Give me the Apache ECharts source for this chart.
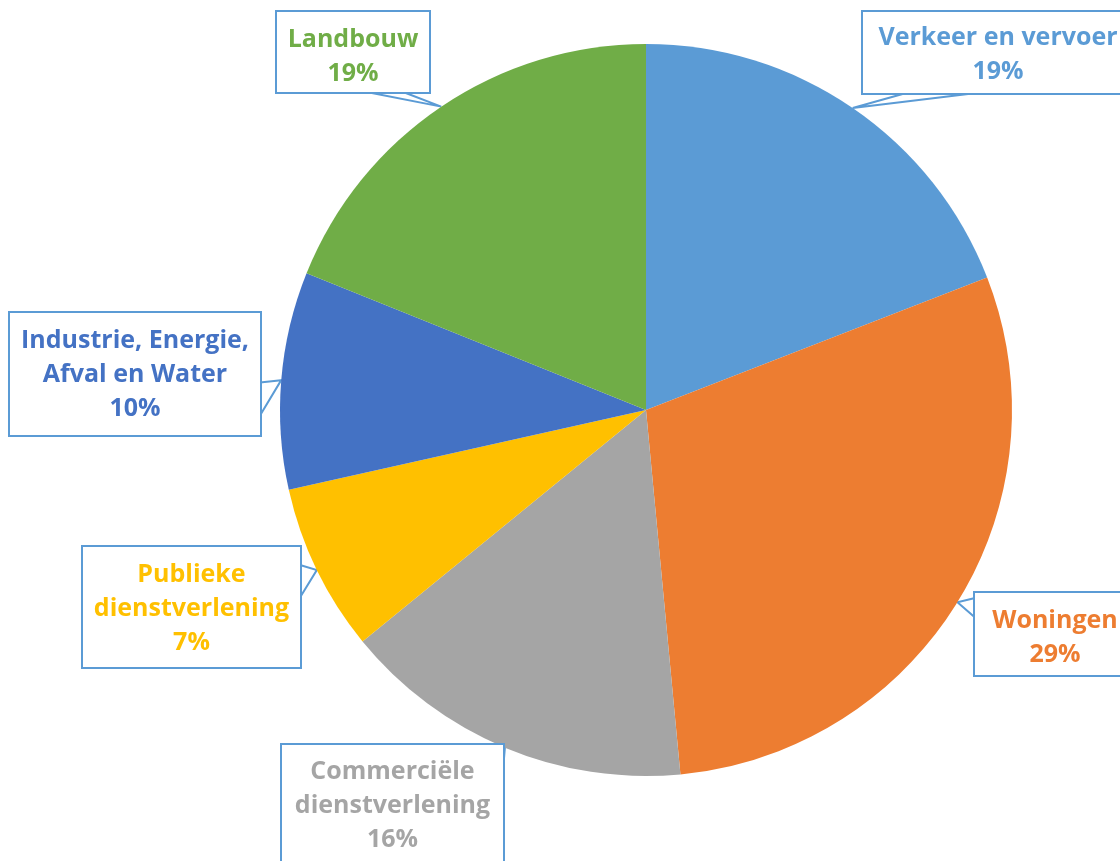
<!DOCTYPE html>
<html><head><meta charset="utf-8">
<script src="https://cdn.jsdelivr.net/npm/echarts@6/dist/echarts.min.js"></script>
<style>html,body{margin:0;padding:0;background:#fff}#c{width:1120px;height:861px}</style>
</head><body><div id="c"></div>
<script>
const categories = ['Verkeer en vervoer', 'Woningen', 'Commerciële dienstverlening', 'Publieke dienstverlening', 'Industrie, Energie, Afval en Water', 'Landbouw'];
const labelTexts = ['Verkeer en vervoer', 'Woningen', 'Commerciële\ndienstverlening', 'Publieke\ndienstverlening', 'Industrie, Energie,\nAfval en Water', 'Landbouw'];
const values = [19.1, 29.4, 15.6, 7.4, 9.6, 18.9];
const colors = ['#5B9BD5', '#ED7D31', '#A5A5A5', '#FFC000', '#4472C4', '#70AD47'];

const LH = 34, PADH = 4;
const boxes = [
  {left: 863, top: 12, w: 270, pt: 9, pb: 4, edge: 'bottom', a: 0.16, b: 0.42},
  {left: 975, top: 593, w: 160, pt: 11, pb: 3, edge: 'left', a: 0.06, b: 0.30},
  {left: 282, top: 745, w: 221, pt: 10, pb: 20, edge: 'right', a: 0.05, b: 0.19},
  {left: 83, top: 547, w: 217, pt: 11, pb: 7, edge: 'right', a: 0.15, b: 0.42},
  {left: 10, top: 313, w: 250, pt: 11, pb: 9, edge: 'right', a: 0.57, b: 0.84},
  {left: 277, top: 12, w: 152, pt: 11, pb: 1, edge: 'bottom', a: 0.59, b: 0.83}
];
function boxHeight(i) {
  return boxes[i].pt + boxes[i].pb + LH * (labelTexts[i].split('\n').length + 1);
}
function edgePoint(i, f) {
  const b = boxes[i], h = boxHeight(i);
  if (b.edge === 'bottom') return [b.left + f * b.w, b.top + h];
  if (b.edge === 'top') return [b.left + f * b.w, b.top];
  if (b.edge === 'left') return [b.left, b.top + f * h];
  return [b.left + b.w, b.top + f * h];
}

const data = categories.map((name, i) => ({
  name: name,
  value: values[i],
  itemStyle: {color: colors[i]},
  label: {
    color: colors[i],
    width: boxes[i].w - 2 * PADH,
    padding: [boxes[i].pt, PADH, boxes[i].pb, PADH]
  }
}));

const chart = echarts.init(document.getElementById('c'), null, {renderer: 'canvas'});
chart.setOption({
  backgroundColor: '#fff',
  animation: false,
  series: [{
    type: 'pie',
    center: [646, 410],
    radius: 366,
    startAngle: 90,
    clockwise: true,
    avoidLabelOverlap: false,
    data: data,
    label: {
      show: true,
      position: 'outside',
      formatter: p => labelTexts[p.dataIndex] + '\n' + Math.round(p.percent) + '%',
      fontFamily: '"Open Sans", sans-serif',
      fontWeight: 'bold',
      fontSize: 25,
      lineHeight: LH,
      align: 'center',
      backgroundColor: '#fff',
      borderColor: '#5B9BD5',
      borderWidth: 2,
      overflow: 'none'
    },
    labelLine: {
      show: true,
      length: 10,
      length2: 10,
      lineStyle: {color: '#5B9BD5', width: 2}
    },
    labelLayout: function (params) {
      const i = params.dataIndex, b = boxes[i];
      const tip = params.labelLinePoints ? params.labelLinePoints[0] : edgePoint(i, 0.5);
      return {
        x: b.left + b.w / 2,
        y: b.top,
        align: 'center',
        verticalAlign: 'top',
        labelLinePoints: [edgePoint(i, b.a), tip, edgePoint(i, b.b)]
      };
    }
  }]
});
</script>
</body></html>
